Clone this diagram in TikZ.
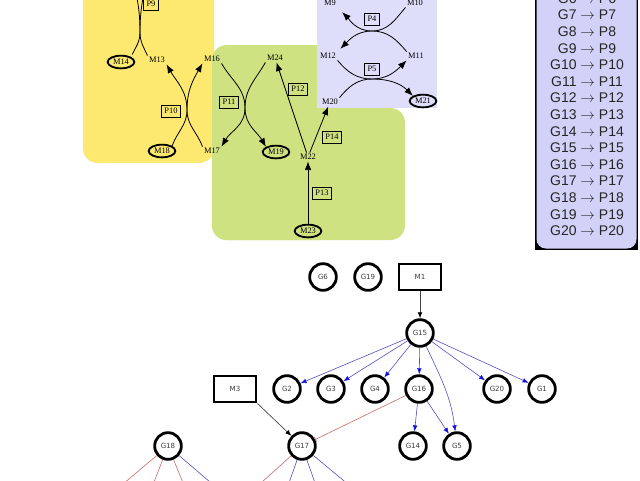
\documentclass[tikz,border=0pt]{standalone}
\usepackage{fontspec}
\setmainfont{Liberation Serif}
\newfontfamily\gsans{DejaVu Sans}
\newfontfamily\lsans{Liberation Sans}
\usetikzlibrary{arrows.meta,shapes.geometric}
\definecolor{pyellow}{RGB}{253,233,112}
\definecolor{pgreen}{RGB}{206,226,130}
\definecolor{plav}{RGB}{222,222,250}
\definecolor{llav}{RGB}{210,210,248}
\definecolor{eblue}{RGB}{80,80,190}
\definecolor{ablue}{RGB}{20,20,225}
\definecolor{ered}{RGB}{200,105,105}
\definecolor{gtext}{RGB}{60,60,60}
\begin{document}
\begin{tikzpicture}[x=0.75pt,y=-0.75pt,
  met/.style={font=\fontsize{6.3}{7}\selectfont, inner sep=1pt},
  metb/.style={met, draw, ellipse, line width=1.4pt, minimum width=20pt, minimum height=9.5pt, inner sep=0pt},
  rxn/.style={draw, line width=0.4pt, font=\fontsize{6.3}{7}\selectfont, inner sep=2.4pt},
  plainc/.style={line width=0.6pt},
  flow/.style={line width=0.6pt, -{Latex[length=6.5pt,width=5pt]}},
  gnode/.style={circle, draw, line width=2.1pt, minimum size=20pt, inner sep=0pt, text=gtext, font=\gsans\fontsize{5.3}{6}\selectfont},
  gbox/.style={rectangle, draw, line width=1.5pt, minimum width=32pt, minimum height=20pt, inner sep=0pt, text=gtext, font=\gsans\fontsize{5.3}{6}\selectfont},
  act/.style={draw=eblue, line width=0.45pt, -{Latex[length=4.5pt,width=3.5pt,color=ablue]}},
  gblk/.style={draw=black!75, line width=0.5pt, -{Latex[length=4.5pt,width=3.5pt,color=black]}},
  inh/.style={draw=ered, line width=0.45pt, -{Bar[width=4pt]}},
  rline/.style={draw=ered, line width=0.45pt},
  bline/.style={draw=eblue, line width=0.45pt},
  leg/.style={font=\lsans\fontsize{10.5}{12}\selectfont, text=black!85}
]
\useasboundingbox (0,0) rectangle (640,480);
\clip (0,0) rectangle (640,480);

% panels
\fill[pyellow, rounded corners=11pt] (83,-30) rectangle (214,163);
\fill[pgreen, rounded corners=11pt] (212,45) rectangle (335,240);
\fill[pgreen, rounded corners=11pt] (212,108) rectangle (405,240);
\fill[plav] (317,-10) rectangle (437,108);
\fill[black] (535,-20) rectangle (638,250);
\fill[llav, rounded corners=7pt] (536.5,-30) rectangle (636.5,248.5);

% legend
\foreach \i [count=\k from 0] in {6,...,20}
  \node[leg] (l\i) at (587,-1.6+16.6*\k) {G\i{} $\rightarrow$ P\i};

% metabolites
\node[met]  (m13) at (157,60) {M13};
\node[metb] (m14) at (121,62) {M14};
\node[met]  (m16) at (212,59) {M16};
\node[metb] (m18) at (162,151) {M18};
\node[met]  (m17) at (212,151) {M17};
\node[met]  (m24) at (275,58) {M24};
\node[metb] (m19) at (276,152) {M19};
\node[met]  (m22) at (308,157) {M22};
\node[metb] (m23) at (308,231) {M23};
\node[met]  (m9)  at (330,3) {M9};
\node[met]  (m10) at (415,3) {M10};
\node[met]  (m12) at (328,56) {M12};
\node[met]  (m11) at (416,56) {M11};
\node[met]  (m20) at (330,102) {M20};
\node[metb] (m21) at (423,101) {M21};

% reactions
\node[rxn] (p9)  at (151,4) {P9};
\node[rxn] (p10) at (171,111) {P10};
\node[rxn] (p11) at (229,102) {P11};
\node[rxn] (p12) at (298,89) {P12};
\node[rxn] (p13) at (322,193) {P13};
\node[rxn] (p14) at (332,137) {P14};
\node[rxn] (p4)  at (372,19) {P4};
\node[rxn] (p5)  at (372,69) {P5};

% P9
\coordinate (c9) at (140,32);
\coordinate (t9a) at (136,-8);
\coordinate (t9b) at (144,-8);
\draw[plainc, shorten <=2pt] (m14.north east) to[out=65,in=-90] (c9) to[out=90,in=-80] (t9a);
\draw[plainc] (m13.north west) to[out=115,in=-90] (c9) to[out=90,in=-100] (t9b);

% P10
\coordinate (c10) at (187,110);
\draw[flow] (m18.north east) to[out=70,in=-90] (c10) to[out=90,in=-60] (m13.south east);
\draw[flow] (m17.north west) to[out=110,in=-90] (c10) to[out=90,in=-120] (m16.south west);

% P11
\coordinate (c11) at (245,108);
\draw[flow] (m16.south east) to[out=-60,in=90] (c11) to[out=-90,in=60] (m17.north east);
\draw[flow] (m24.south west) to[out=-120,in=90] (c11) to[out=-90,in=120] (m19.north west);

% P12 P13 P14
\draw[flow] (m23) -- (m22);
\draw[flow] (m22) -- (m24);
\draw[flow] (m22) -- (m20);

% P4
\coordinate (c4) at (372,31);
\draw[flow, shorten >=5pt] (m10.south west) to[out=-130,in=0] (c4) to[out=180,in=-45] (m9.south east);
\draw[flow, shorten >=3pt] (m11.north west) to[out=130,in=0] (c4) to[out=180,in=45] (m12.north east);

% P5
\coordinate (c5) at (372,79);
\draw[flow] (m12.south east) to[out=-50,in=180] (c5) to[out=0,in=-135] (m11.south west);
\draw[flow] (m20.north east) to[out=50,in=180] (c5) to[out=0,in=135] (m21.north west);

% graph
\node[gnode] (g6)  at (323,277) {G6};
\node[gnode] (g19) at (368,277) {G19};
\node[gbox]  (m1)  at (420,277) {M1};
\node[gnode] (g15) at (420,333) {G15};
\node[gbox]  (m3)  at (235,389) {M3};
\node[gnode] (g2)  at (287,389) {G2};
\node[gnode] (g3)  at (331,389) {G3};
\node[gnode] (g4)  at (375,389) {G4};
\node[gnode] (g16) at (419,389) {G16};
\node[gnode] (g20) at (497,389) {G20};
\node[gnode] (g1)  at (542,389) {G1};
\node[gnode] (g18) at (168,446) {G18};
\node[gnode] (g17) at (302,446) {G17};
\node[gnode] (g14) at (413,446) {G14};
\node[gnode] (g5)  at (457,446) {G5};

\draw[gblk] (m1) -- (g15);
\foreach \t in {g2,g3,g4,g16,g20,g1} \draw[act] (g15) -- (\t);
\draw[act] (g15) to[out=-65,in=97] (g5);
\draw[act] (g16) -- (g14);
\draw[act] (g16) -- (g5);
\draw[inh] (g16) -- (g17);
\draw[gblk] (m3.south east) -- (g17);

\coordinate (d18a) at (104,500);
\coordinate (d18b) at (147,500);
\coordinate (d18c) at (190,500);
\coordinate (d18d) at (231,500);
\coordinate (d17a) at (242,500);
\coordinate (d17b) at (283,500);
\coordinate (d17c) at (321,500);
\coordinate (d17d) at (367,500);
\draw[rline] (g18) -- (d18a);
\draw[rline] (g18) -- (d18b);
\draw[rline] (g18) -- (d18c);
\draw[bline] (g18) -- (d18d);
\draw[rline] (g17) -- (d17a);
\draw[bline] (g17) -- (d17b);
\draw[bline] (g17) -- (d17c);
\draw[bline] (g17) -- (d17d);
\end{tikzpicture}
\end{document}
